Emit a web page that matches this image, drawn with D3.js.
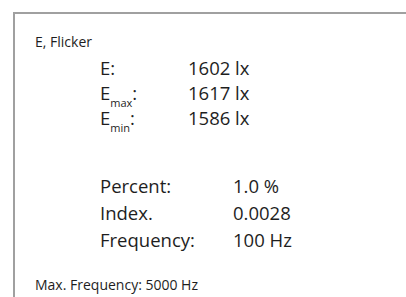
<!DOCTYPE html>
<html>
<head>
<meta charset="utf-8">
<script src="https://cdn.jsdelivr.net/npm/d3@7"></script>
<style>
  html, body { margin: 0; padding: 0; background: #fff; }
  text { font-family: "Open Sans", "Noto Sans", sans-serif; fill: #1e1e1e; }
</style>
</head>
<body>
<div id="canvas"></div>
<script>
"use strict"

/* Data */
let title = "E, Flicker";
let footer = "Max. Frequency: 5000 Hz";

let eLabels = ["E", "E", "E"];
let eSubs = ["", "max", "min"];
let eValues = [1602, 1617, 1586];
let eUnit = "lx";

let flickerLabels = ["Percent:", "Index.", "Frequency:"];
let flickerValues = ["1.0 %", "0.0028", "100 Hz"];

/* Canvas */
let drawing = d3.select("#canvas")
    .append("svg")
    .attr("width", 406)
    .attr("height", 297);

/* Frame: only left and top edges visible */
drawing.append("path")
    .attr("d", "M14,300 L14,13 L410,13")
    .attr("fill", "none")
    .attr("stroke", "#a0a0a0")
    .attr("stroke-width", 2);

/* Title and footer */
drawing.append("text")
    .attr("x", 35)
    .attr("y", 47)
    .attr("font-size", 14)
    .text(title);

drawing.append("text")
    .attr("x", 35)
    .attr("y", 290)
    .attr("font-size", 14)
    .text(footer);

/* Illuminance rows */
let eRow = d3.scaleLinear().domain([0, eLabels.length - 1]).range([75, 125]);

let eGroup = drawing.append("g")
    .attr("font-size", 18.5);

eLabels.forEach(function (lbl, i) {
    let t = eGroup.append("text")
        .attr("x", 100)
        .attr("y", eRow(i));
    t.append("tspan").text(lbl);
    if (eSubs[i]) {
        t.append("tspan")
            .attr("font-size", 11)
            .attr("dy", 7)
            .text(eSubs[i]);
        t.append("tspan")
            .attr("dy", -7)
            .text(":");
    } else {
        t.append("tspan").text(":");
    }
    eGroup.append("text")
        .attr("x", 188)
        .attr("y", eRow(i))
        .text(eValues[i] + " " + eUnit);
});

/* Flicker rows */
let fRow = d3.scaleLinear().domain([0, flickerLabels.length - 1]).range([193, 247]);

let fGroup = drawing.append("g")
    .attr("font-size", 18.5);

flickerLabels.forEach(function (lbl, i) {
    fGroup.append("text")
        .attr("x", 100)
        .attr("y", fRow(i))
        .text(lbl);
    fGroup.append("text")
        .attr("x", 233)
        .attr("y", fRow(i))
        .text(flickerValues[i]);
});
</script>
</body>
</html>
